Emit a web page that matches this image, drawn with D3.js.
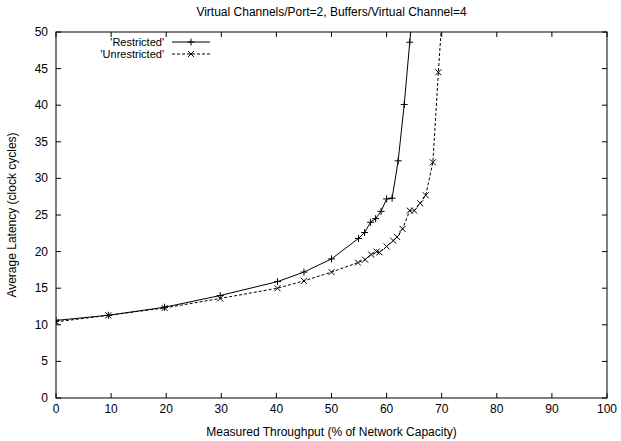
<!DOCTYPE html>
<html>
  <head>
    <meta charset="utf-8"/>
    <title>Virtual channels latency</title>
    <style type="text/css">
body {
  margin: 0;
  background: #fff;
}
text {
  font-family: "Liberation Sans", Arial, sans-serif;
  font-size: 12px;
  fill: #000;
}
.legend text {
  font-size: 11px;
}
.frame {
  fill: none;
  stroke: #000;
  stroke-width: 1;
}
.series {
  fill: none;
  stroke: #000;
  stroke-width: 1;
}
.mark {
  stroke: #000;
  stroke-width: 1;
}
    </style>
  </head>
  <body>
    <div id="chart"></div>
    <script src="https://cdnjs.cloudflare.com/ajax/libs/d3/7.8.5/d3.min.js"></script>
    <script>
    const titleText = "Virtual Channels/Port=2, Buffers/Virtual Channel=4";
    const xLabel = "Measured Throughput (% of Network Capacity)";
    const yLabel = "Average Latency (clock cycles)";

    const xTicks = [0, 10, 20, 30, 40, 50, 60, 70, 80, 90, 100];
    const yTicks = [0, 5, 10, 15, 20, 25, 30, 35, 40, 45, 50];

    // 'Restricted'
    const restrictedX = [0, 9.5, 19.7, 29.8, 40.2, 45.0, 50.0, 54.9, 56.0, 57.1, 58.0, 59.0, 60.0, 61.0, 62.1, 63.2, 64.2, 65.2];
    const restrictedY = [10.6, 11.3, 12.4, 14.0, 15.9, 17.2, 19.0, 21.8, 22.6, 24.0, 24.5, 25.5, 27.2, 27.3, 32.4, 40.1, 48.6, 57];

    // 'Unrestricted'
    const unrestrictedX = [0, 9.5, 19.7, 29.8, 40.2, 45.0, 50.0, 54.8, 56.1, 57.2, 58.2, 58.7, 60.0, 61.2, 61.9, 62.9, 64.2, 65.0, 66.1, 67.1, 68.4, 69.4, 70.4];
    const unrestrictedY = [10.4, 11.3, 12.3, 13.6, 15.0, 16.0, 17.2, 18.5, 18.9, 19.6, 20.0, 19.9, 20.7, 21.5, 22.0, 23.1, 25.6, 25.6, 26.6, 27.7, 32.2, 44.5, 56];

    const W = 621, H = 441;
    const m = {left: 56, right: 607, top: 32, bottom: 398};

    const x = d3.scaleLinear().domain([0, 100]).range([m.left, m.right]);
    const y = d3.scaleLinear().domain([0, 50]).range([m.bottom, m.top]);

    const svg = d3.select("#chart").append("svg")
        .attr("width", W)
        .attr("height", H);

    svg.append("defs").append("clipPath")
        .attr("id", "plotclip")
      .append("rect")
        .attr("x", m.left).attr("y", m.top)
        .attr("width", m.right - m.left).attr("height", m.bottom - m.top);

    // ticks, mirrored on all four sides, pointing inward
    const tl = 5;
    const tickG = svg.append("g").attr("class", "mark");
    xTicks.forEach(t => {
      tickG.append("line").attr("x1", x(t)).attr("x2", x(t)).attr("y1", m.bottom).attr("y2", m.bottom - tl);
      tickG.append("line").attr("x1", x(t)).attr("x2", x(t)).attr("y1", m.top).attr("y2", m.top + tl);
    });
    yTicks.forEach(t => {
      tickG.append("line").attr("x1", m.left).attr("x2", m.left + tl).attr("y1", y(t)).attr("y2", y(t));
      tickG.append("line").attr("x1", m.right).attr("x2", m.right - tl).attr("y1", y(t)).attr("y2", y(t));
    });

    svg.append("g").selectAll("text")
        .data(xTicks)
        .enter()
        .append("text")
        .attr("x", d => x(d))
        .attr("y", m.bottom + 15)
        .attr("text-anchor", "middle")
        .text(d => d);

    svg.append("g").selectAll("text")
        .data(yTicks)
        .enter()
        .append("text")
        .attr("x", m.left - 8)
        .attr("y", d => y(d) + 4)
        .attr("text-anchor", "end")
        .text(d => d);

    svg.append("rect")
        .attr("class", "frame")
        .attr("x", m.left).attr("y", m.top)
        .attr("width", m.right - m.left).attr("height", m.bottom - m.top);

    svg.append("text")
        .attr("x", (m.left + m.right) / 2)
        .attr("y", 16)
        .attr("text-anchor", "middle")
        .text(titleText);

    svg.append("text")
        .attr("x", (m.left + m.right) / 2)
        .attr("y", 436)
        .attr("text-anchor", "middle")
        .text(xLabel);

    svg.append("text")
        .attr("transform", "translate(16," + ((m.top + m.bottom) / 2) + ") rotate(-90)")
        .attr("text-anchor", "middle")
        .text(yLabel);

    const line = d3.line().x(d => x(d[0])).y(d => y(d[1]));
    const restricted = restrictedX.map((v, i) => [v, restrictedY[i]]);
    const unrestricted = unrestrictedX.map((v, i) => [v, unrestrictedY[i]]);

    const plot = svg.append("g").attr("clip-path", "url(#plotclip)");

    const plusPath = (cx, cy, r) => `M${cx - r},${cy}H${cx + r}M${cx},${cy - r}V${cy + r}`;
    const crossPath = (cx, cy, r) => `M${cx - r},${cy - r}L${cx + r},${cy + r}M${cx - r},${cy + r}L${cx + r},${cy - r}`;

    plot.append("path")
        .attr("class", "series")
        .attr("d", line(restricted));
    plot.selectAll(".rmark")
        .data(restricted)
        .enter()
        .append("path")
        .attr("class", "mark rmark")
        .attr("d", d => plusPath(x(d[0]), y(d[1]), 3.5));

    plot.append("path")
        .attr("class", "series")
        .attr("stroke-dasharray", "3,2")
        .attr("d", line(unrestricted));
    plot.selectAll(".umark")
        .data(unrestricted)
        .enter()
        .append("path")
        .attr("class", "mark umark")
        .attr("d", d => crossPath(x(d[0]), y(d[1]), 3));

    // legend
    const legend = [
      {name: "'Restricted'", dash: null, mk: plusPath, r: 3.5},
      {name: "'Unrestricted'", dash: "3,2", mk: crossPath, r: 3}
    ];
    const lg = svg.append("g").attr("class", "legend");
    legend.forEach((d, i) => {
      const ly = 42 + i * 12;
      lg.append("text")
          .attr("x", 164)
          .attr("y", ly + 4)
          .attr("text-anchor", "end")
          .text(d.name);
      lg.append("line")
          .attr("class", "series")
          .attr("x1", 172).attr("x2", 210)
          .attr("y1", ly).attr("y2", ly)
          .attr("stroke-dasharray", d.dash);
      lg.append("path")
          .attr("class", "mark")
          .attr("d", d.mk(191, ly, d.r));
    });
    </script>
  </body>
</html>
